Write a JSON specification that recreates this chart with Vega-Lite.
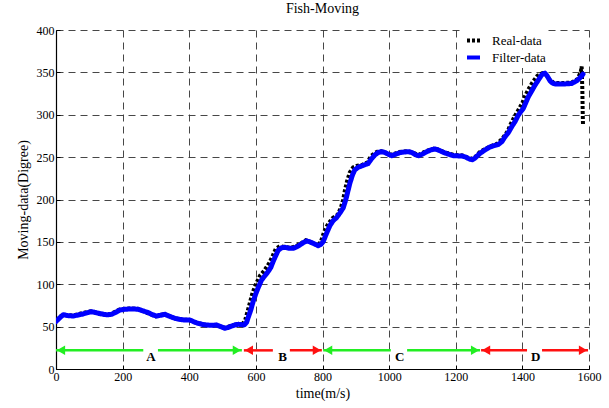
{
  "$schema": "https://vega.github.io/schema/vega-lite/v6.json",
  "width": 533,
  "height": 339,
  "autosize": {"type": "none"},
  "padding": {"left": 56, "top": 30, "right": 20, "bottom": 39},
  "background": "white",
  "config": {
    "font": "Liberation Serif",
    "view": {"stroke": null},
    "axis": {
      "labelFont": "Liberation Serif",
      "titleFont": "Liberation Serif",
      "labelFontSize": 12,
      "titleFontSize": 14,
      "titleFontWeight": "normal",
      "labelColor": "black",
      "titleColor": "black",
      "domainColor": "black",
      "domainWidth": 1.2,
      "tickColor": "black",
      "gridColor": "#333333",
      "gridDash": [7, 5],
      "gridWidth": 1,
      "gridOpacity": 0.9
    }
  },
  "title": {"text": "Fish-Moving", "font": "Liberation Serif", "fontSize": 14, "fontWeight": "normal", "color": "black", "offset": 8},
  "datasets": {
    "curves": [
      {"series": "Filter-data", "t": 0, "v": 56},
      {"series": "Filter-data", "t": 10, "v": 60},
      {"series": "Filter-data", "t": 22, "v": 64},
      {"series": "Filter-data", "t": 35, "v": 63},
      {"series": "Filter-data", "t": 52, "v": 62.5},
      {"series": "Filter-data", "t": 70, "v": 64},
      {"series": "Filter-data", "t": 82, "v": 65},
      {"series": "Filter-data", "t": 95, "v": 66.5},
      {"series": "Filter-data", "t": 107, "v": 67.6},
      {"series": "Filter-data", "t": 125, "v": 66},
      {"series": "Filter-data", "t": 142, "v": 64.5},
      {"series": "Filter-data", "t": 155, "v": 64},
      {"series": "Filter-data", "t": 167, "v": 64.5},
      {"series": "Filter-data", "t": 180, "v": 67},
      {"series": "Filter-data", "t": 192, "v": 69.6},
      {"series": "Filter-data", "t": 207, "v": 70.5},
      {"series": "Filter-data", "t": 222, "v": 70.8},
      {"series": "Filter-data", "t": 235, "v": 70.8},
      {"series": "Filter-data", "t": 247, "v": 70.4},
      {"series": "Filter-data", "t": 262, "v": 68.5},
      {"series": "Filter-data", "t": 277, "v": 66.5},
      {"series": "Filter-data", "t": 290, "v": 64},
      {"series": "Filter-data", "t": 302, "v": 62.5},
      {"series": "Filter-data", "t": 315, "v": 63.5},
      {"series": "Filter-data", "t": 327, "v": 64.5},
      {"series": "Filter-data", "t": 342, "v": 62},
      {"series": "Filter-data", "t": 357, "v": 59.8},
      {"series": "Filter-data", "t": 372, "v": 58.5},
      {"series": "Filter-data", "t": 387, "v": 57.8},
      {"series": "Filter-data", "t": 402, "v": 57.8},
      {"series": "Filter-data", "t": 415, "v": 55.5},
      {"series": "Filter-data", "t": 427, "v": 53.8},
      {"series": "Filter-data", "t": 440, "v": 52.5},
      {"series": "Filter-data", "t": 452, "v": 51.9},
      {"series": "Filter-data", "t": 467, "v": 51.5},
      {"series": "Filter-data", "t": 482, "v": 51.9},
      {"series": "Filter-data", "t": 495, "v": 50},
      {"series": "Filter-data", "t": 507, "v": 48},
      {"series": "Filter-data", "t": 517, "v": 49},
      {"series": "Filter-data", "t": 527, "v": 50.7},
      {"series": "Filter-data", "t": 537, "v": 52},
      {"series": "Filter-data", "t": 547, "v": 52.7},
      {"series": "Filter-data", "t": 555, "v": 52.5},
      {"series": "Filter-data", "t": 565, "v": 52},
      {"series": "Filter-data", "t": 572, "v": 55},
      {"series": "Filter-data", "t": 578, "v": 62},
      {"series": "Filter-data", "t": 585, "v": 70},
      {"series": "Filter-data", "t": 592, "v": 80},
      {"series": "Filter-data", "t": 600, "v": 89},
      {"series": "Filter-data", "t": 607, "v": 96},
      {"series": "Filter-data", "t": 617, "v": 105},
      {"series": "Filter-data", "t": 627, "v": 110},
      {"series": "Filter-data", "t": 637, "v": 115},
      {"series": "Filter-data", "t": 645, "v": 120},
      {"series": "Filter-data", "t": 652, "v": 127},
      {"series": "Filter-data", "t": 660, "v": 134},
      {"series": "Filter-data", "t": 667, "v": 140},
      {"series": "Filter-data", "t": 677, "v": 143},
      {"series": "Filter-data", "t": 687, "v": 143.6},
      {"series": "Filter-data", "t": 700, "v": 142.5},
      {"series": "Filter-data", "t": 712, "v": 142.4},
      {"series": "Filter-data", "t": 722, "v": 144},
      {"series": "Filter-data", "t": 732, "v": 146.3},
      {"series": "Filter-data", "t": 742, "v": 149},
      {"series": "Filter-data", "t": 752, "v": 151},
      {"series": "Filter-data", "t": 762, "v": 150},
      {"series": "Filter-data", "t": 772, "v": 148.3},
      {"series": "Filter-data", "t": 787, "v": 145.5},
      {"series": "Filter-data", "t": 795, "v": 147},
      {"series": "Filter-data", "t": 802, "v": 150.2},
      {"series": "Filter-data", "t": 812, "v": 160},
      {"series": "Filter-data", "t": 822, "v": 169},
      {"series": "Filter-data", "t": 832, "v": 175},
      {"series": "Filter-data", "t": 842, "v": 178.5},
      {"series": "Filter-data", "t": 852, "v": 184},
      {"series": "Filter-data", "t": 862, "v": 190},
      {"series": "Filter-data", "t": 867, "v": 196},
      {"series": "Filter-data", "t": 872, "v": 203},
      {"series": "Filter-data", "t": 877, "v": 211},
      {"series": "Filter-data", "t": 882, "v": 219},
      {"series": "Filter-data", "t": 890, "v": 229},
      {"series": "Filter-data", "t": 897, "v": 235},
      {"series": "Filter-data", "t": 907, "v": 238},
      {"series": "Filter-data", "t": 917, "v": 239.5},
      {"series": "Filter-data", "t": 927, "v": 241},
      {"series": "Filter-data", "t": 937, "v": 242.5},
      {"series": "Filter-data", "t": 947, "v": 248},
      {"series": "Filter-data", "t": 957, "v": 252.5},
      {"series": "Filter-data", "t": 967, "v": 255.5},
      {"series": "Filter-data", "t": 977, "v": 256.4},
      {"series": "Filter-data", "t": 987, "v": 255.6},
      {"series": "Filter-data", "t": 997, "v": 253.5},
      {"series": "Filter-data", "t": 1008, "v": 251.7},
      {"series": "Filter-data", "t": 1020, "v": 253.5},
      {"series": "Filter-data", "t": 1033, "v": 255.3},
      {"series": "Filter-data", "t": 1045, "v": 256},
      {"series": "Filter-data", "t": 1058, "v": 256.4},
      {"series": "Filter-data", "t": 1068, "v": 255.5},
      {"series": "Filter-data", "t": 1078, "v": 253},
      {"series": "Filter-data", "t": 1088, "v": 251.7},
      {"series": "Filter-data", "t": 1100, "v": 253.5},
      {"series": "Filter-data", "t": 1113, "v": 256.4},
      {"series": "Filter-data", "t": 1125, "v": 258.5},
      {"series": "Filter-data", "t": 1138, "v": 259.6},
      {"series": "Filter-data", "t": 1150, "v": 258},
      {"series": "Filter-data", "t": 1163, "v": 255.6},
      {"series": "Filter-data", "t": 1178, "v": 253.5},
      {"series": "Filter-data", "t": 1193, "v": 251.7},
      {"series": "Filter-data", "t": 1205, "v": 251.5},
      {"series": "Filter-data", "t": 1218, "v": 251.3},
      {"series": "Filter-data", "t": 1230, "v": 250},
      {"series": "Filter-data", "t": 1243, "v": 247.4},
      {"series": "Filter-data", "t": 1250, "v": 247},
      {"series": "Filter-data", "t": 1258, "v": 249},
      {"series": "Filter-data", "t": 1273, "v": 254.5},
      {"series": "Filter-data", "t": 1288, "v": 258.5},
      {"series": "Filter-data", "t": 1303, "v": 262},
      {"series": "Filter-data", "t": 1315, "v": 263.5},
      {"series": "Filter-data", "t": 1328, "v": 265},
      {"series": "Filter-data", "t": 1338, "v": 268},
      {"series": "Filter-data", "t": 1348, "v": 274},
      {"series": "Filter-data", "t": 1358, "v": 279},
      {"series": "Filter-data", "t": 1368, "v": 285.9},
      {"series": "Filter-data", "t": 1378, "v": 292},
      {"series": "Filter-data", "t": 1388, "v": 299.7},
      {"series": "Filter-data", "t": 1396, "v": 304},
      {"series": "Filter-data", "t": 1403, "v": 307.6},
      {"series": "Filter-data", "t": 1410, "v": 314},
      {"series": "Filter-data", "t": 1418, "v": 321.3},
      {"series": "Filter-data", "t": 1428, "v": 328},
      {"series": "Filter-data", "t": 1438, "v": 335},
      {"series": "Filter-data", "t": 1448, "v": 341},
      {"series": "Filter-data", "t": 1458, "v": 347},
      {"series": "Filter-data", "t": 1463, "v": 348.5},
      {"series": "Filter-data", "t": 1468, "v": 349},
      {"series": "Filter-data", "t": 1475, "v": 345.5},
      {"series": "Filter-data", "t": 1483, "v": 340},
      {"series": "Filter-data", "t": 1490, "v": 337.5},
      {"series": "Filter-data", "t": 1498, "v": 336.3},
      {"series": "Filter-data", "t": 1510, "v": 336.3},
      {"series": "Filter-data", "t": 1523, "v": 336.3},
      {"series": "Filter-data", "t": 1535, "v": 336.5},
      {"series": "Filter-data", "t": 1548, "v": 337},
      {"series": "Filter-data", "t": 1556, "v": 338.5},
      {"series": "Filter-data", "t": 1563, "v": 340},
      {"series": "Filter-data", "t": 1570, "v": 342.5},
      {"series": "Filter-data", "t": 1578, "v": 345.7},
      {"series": "Filter-data", "t": 1582, "v": 348},
      {"series": "Real-data", "t": 0, "v": 58},
      {"series": "Real-data", "t": 20, "v": 64},
      {"series": "Real-data", "t": 50, "v": 63},
      {"series": "Real-data", "t": 80, "v": 66},
      {"series": "Real-data", "t": 105, "v": 68},
      {"series": "Real-data", "t": 140, "v": 64},
      {"series": "Real-data", "t": 165, "v": 65},
      {"series": "Real-data", "t": 190, "v": 70},
      {"series": "Real-data", "t": 220, "v": 71.5},
      {"series": "Real-data", "t": 245, "v": 71},
      {"series": "Real-data", "t": 275, "v": 66},
      {"series": "Real-data", "t": 300, "v": 62},
      {"series": "Real-data", "t": 325, "v": 65},
      {"series": "Real-data", "t": 355, "v": 60},
      {"series": "Real-data", "t": 385, "v": 58},
      {"series": "Real-data", "t": 400, "v": 58},
      {"series": "Real-data", "t": 425, "v": 54},
      {"series": "Real-data", "t": 450, "v": 52},
      {"series": "Real-data", "t": 480, "v": 52},
      {"series": "Real-data", "t": 505, "v": 48.5},
      {"series": "Real-data", "t": 525, "v": 51},
      {"series": "Real-data", "t": 545, "v": 53},
      {"series": "Real-data", "t": 560, "v": 53},
      {"series": "Real-data", "t": 568, "v": 58},
      {"series": "Real-data", "t": 575, "v": 68},
      {"series": "Real-data", "t": 582, "v": 78},
      {"series": "Real-data", "t": 590, "v": 90},
      {"series": "Real-data", "t": 600, "v": 100},
      {"series": "Real-data", "t": 612, "v": 110},
      {"series": "Real-data", "t": 625, "v": 116},
      {"series": "Real-data", "t": 640, "v": 125},
      {"series": "Real-data", "t": 650, "v": 133},
      {"series": "Real-data", "t": 660, "v": 142},
      {"series": "Real-data", "t": 672, "v": 145},
      {"series": "Real-data", "t": 687, "v": 144},
      {"series": "Real-data", "t": 705, "v": 143},
      {"series": "Real-data", "t": 720, "v": 145},
      {"series": "Real-data", "t": 735, "v": 148},
      {"series": "Real-data", "t": 750, "v": 152},
      {"series": "Real-data", "t": 770, "v": 149},
      {"series": "Real-data", "t": 785, "v": 146},
      {"series": "Real-data", "t": 795, "v": 150},
      {"series": "Real-data", "t": 805, "v": 162},
      {"series": "Real-data", "t": 815, "v": 170},
      {"series": "Real-data", "t": 830, "v": 178},
      {"series": "Real-data", "t": 845, "v": 182},
      {"series": "Real-data", "t": 855, "v": 190},
      {"series": "Real-data", "t": 862, "v": 200},
      {"series": "Real-data", "t": 868, "v": 212},
      {"series": "Real-data", "t": 874, "v": 222},
      {"series": "Real-data", "t": 882, "v": 232},
      {"series": "Real-data", "t": 892, "v": 238},
      {"series": "Real-data", "t": 905, "v": 240},
      {"series": "Real-data", "t": 920, "v": 241},
      {"series": "Real-data", "t": 935, "v": 244},
      {"series": "Real-data", "t": 945, "v": 251},
      {"series": "Real-data", "t": 957, "v": 255},
      {"series": "Real-data", "t": 970, "v": 257.5},
      {"series": "Real-data", "t": 985, "v": 256},
      {"series": "Real-data", "t": 1000, "v": 253},
      {"series": "Real-data", "t": 1010, "v": 253},
      {"series": "Real-data", "t": 1030, "v": 256},
      {"series": "Real-data", "t": 1055, "v": 257},
      {"series": "Real-data", "t": 1070, "v": 255.5},
      {"series": "Real-data", "t": 1088, "v": 252.5},
      {"series": "Real-data", "t": 1110, "v": 257},
      {"series": "Real-data", "t": 1138, "v": 260.5},
      {"series": "Real-data", "t": 1165, "v": 256},
      {"series": "Real-data", "t": 1195, "v": 252.5},
      {"series": "Real-data", "t": 1220, "v": 252},
      {"series": "Real-data", "t": 1245, "v": 248},
      {"series": "Real-data", "t": 1258, "v": 250},
      {"series": "Real-data", "t": 1272, "v": 256},
      {"series": "Real-data", "t": 1290, "v": 260},
      {"series": "Real-data", "t": 1305, "v": 263},
      {"series": "Real-data", "t": 1325, "v": 266},
      {"series": "Real-data", "t": 1340, "v": 272},
      {"series": "Real-data", "t": 1355, "v": 280},
      {"series": "Real-data", "t": 1365, "v": 289},
      {"series": "Real-data", "t": 1378, "v": 299},
      {"series": "Real-data", "t": 1390, "v": 307},
      {"series": "Real-data", "t": 1400, "v": 314},
      {"series": "Real-data", "t": 1408, "v": 322},
      {"series": "Real-data", "t": 1418, "v": 330},
      {"series": "Real-data", "t": 1430, "v": 338},
      {"series": "Real-data", "t": 1445, "v": 346},
      {"series": "Real-data", "t": 1460, "v": 349},
      {"series": "Real-data", "t": 1470, "v": 348},
      {"series": "Real-data", "t": 1480, "v": 342},
      {"series": "Real-data", "t": 1495, "v": 337.5},
      {"series": "Real-data", "t": 1520, "v": 337.5},
      {"series": "Real-data", "t": 1548, "v": 338},
      {"series": "Real-data", "t": 1565, "v": 342},
      {"series": "Real-data", "t": 1575, "v": 350},
      {"series": "Real-data", "t": 1578, "v": 357},
      {"series": "Real-data", "t": 1580, "v": 330},
      {"series": "Real-data", "t": 1581, "v": 305},
      {"series": "Real-data", "t": 1582, "v": 288}
    ],
    "phases": [
      {"phase": "A", "group": "green", "start": 0, "gapStart": 262, "gapEnd": 306, "end": 558, "mid": 285},
      {"phase": "B", "group": "red", "start": 564, "gapStart": 651, "gapEnd": 702, "end": 798, "mid": 680},
      {"phase": "C", "group": "green", "start": 802, "gapStart": 1005, "gapEnd": 1054, "end": 1273, "mid": 1032},
      {"phase": "D", "group": "red", "start": 1276, "gapStart": 1414, "gapEnd": 1459, "end": 1597, "mid": 1440}
    ]
  },
  "layer": [
    {
      "data": {"name": "curves"},
      "transform": [{"filter": "datum.series === 'Real-data'"}],
      "mark": {"type": "line", "strokeWidth": 4, "strokeCap": "butt", "clip": true},
      "encoding": {
        "x": {"field": "t", "type": "quantitative", "scale": {"domain": [0, 1600], "nice": false}, "title": "time(m/s)",
          "axis": {"values": [0, 200, 400, 600, 800, 1000, 1200, 1400, 1600], "format": "d", "grid": true, "tickSize": -4, "labelPadding": 6, "titlePadding": 4, "labelFlush": false}},
        "y": {"field": "v", "type": "quantitative", "scale": {"domain": [0, 400], "nice": false}, "title": "Moving-data(Digree)",
          "axis": {"values": [0, 50, 100, 150, 200, 250, 300, 350, 400], "format": "d", "grid": true, "tickSize": -4, "labelPadding": 6, "titlePadding": 6}},
        "color": {"field": "series", "type": "nominal", "scale": {"domain": ["Real-data", "Filter-data"], "range": ["black", "#0000ff"]},
          "legend": {"title": null, "orient": "none", "legendX": 407, "legendY": 0, "fillColor": "white", "padding": 2, "symbolType": "stroke", "symbolSize": 169, "symbolStrokeWidth": 4, "labelFont": "Liberation Serif", "labelFontSize": 13, "labelColor": "black", "rowPadding": 0, "labelOffset": 10}},
        "strokeDash": {"field": "series", "type": "nominal", "scale": {"domain": ["Real-data", "Filter-data"], "range": [[3, 2], [1, 0]]}, "legend": {"title": null}}
      }
    },
    {
      "data": {"name": "curves"},
      "transform": [{"filter": "datum.series === 'Filter-data'"}],
      "mark": {"type": "line", "strokeWidth": 5, "strokeCap": "round", "strokeJoin": "round", "clip": true},
      "encoding": {
        "x": {"field": "t", "type": "quantitative"},
        "y": {"field": "v", "type": "quantitative"},
        "color": {"field": "series", "type": "nominal"},
        "strokeDash": {"field": "series", "type": "nominal"}
      }
    },
    {
      "data": {"name": "phases"},
      "transform": [{"filter": "datum.group === 'green'"}],
      "layer": [
        {"mark": {"type": "rule", "color": "#22ee22", "strokeWidth": 2.5}, "encoding": {"x": {"field": "start", "type": "quantitative"}, "x2": {"field": "gapStart"}, "y": {"datum": 22}}},
        {"mark": {"type": "rule", "color": "#22ee22", "strokeWidth": 2.5}, "encoding": {"x": {"field": "gapEnd", "type": "quantitative"}, "x2": {"field": "end"}, "y": {"datum": 22}}},
        {"mark": {"type": "point", "shape": "triangle-left", "filled": true, "color": "#22ee22", "size": 90, "opacity": 1}, "encoding": {"x": {"field": "start", "type": "quantitative"}, "y": {"datum": 22}, "xOffset": {"value": 5}}},
        {"mark": {"type": "point", "shape": "triangle-right", "filled": true, "color": "#22ee22", "size": 90, "opacity": 1}, "encoding": {"x": {"field": "end", "type": "quantitative"}, "y": {"datum": 22}, "xOffset": {"value": -5}}}
      ]
    },
    {
      "data": {"name": "phases"},
      "transform": [{"filter": "datum.group === 'red'"}],
      "layer": [
        {"mark": {"type": "rule", "color": "#ff1010", "strokeWidth": 2.5}, "encoding": {"x": {"field": "start", "type": "quantitative"}, "x2": {"field": "gapStart"}, "y": {"datum": 22}}},
        {"mark": {"type": "rule", "color": "#ff1010", "strokeWidth": 2.5}, "encoding": {"x": {"field": "gapEnd", "type": "quantitative"}, "x2": {"field": "end"}, "y": {"datum": 22}}},
        {"mark": {"type": "point", "shape": "triangle-left", "filled": true, "color": "#ff1010", "size": 90, "opacity": 1}, "encoding": {"x": {"field": "start", "type": "quantitative"}, "y": {"datum": 22}, "xOffset": {"value": 5}}},
        {"mark": {"type": "point", "shape": "triangle-right", "filled": true, "color": "#ff1010", "size": 90, "opacity": 1}, "encoding": {"x": {"field": "end", "type": "quantitative"}, "y": {"datum": 22}, "xOffset": {"value": -5}}}
      ]
    },
    {
      "data": {"name": "phases"},
      "mark": {"type": "text", "font": "Liberation Serif", "fontSize": 13, "fontWeight": "bold", "color": "black", "baseline": "middle", "align": "center"},
      "encoding": {"x": {"field": "mid", "type": "quantitative"}, "y": {"datum": 14}, "text": {"field": "phase"}}
    }
  ]
}
